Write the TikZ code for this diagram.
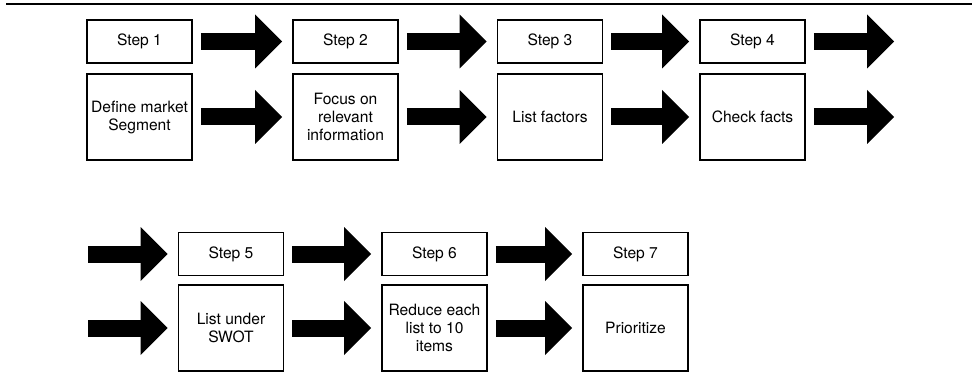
\documentclass[tikz,border=0pt]{standalone}
\usepackage{fontspec}
\setmainfont{TeX Gyre Heros}
\usetikzlibrary{arrows.meta}
\tikzset{
  step box/.style={
    draw, line width=1.7pt, inner sep=0pt,
    minimum width=105pt, minimum height=43pt,
    align=center, font=\fontsize{15.6}{18}\selectfont
  },
  task box/.style={
    step box, minimum height=86pt
  },
  big arrow/.style={
    draw, line width=17pt,
    -{Triangle[length=27pt,width=54pt,line width=0pt]},
    shorten <=8pt, shorten >=10pt
  }
}

\begin{document}
\begin{tikzpicture}[x=1pt,y=-1pt]
    \useasboundingbox (0,0) rectangle (972,385);
    \draw[line width=1.5pt] (6,4) -- (972,4);

    % headers
    \begin{scope}[every node/.style={step box}]
        \node (S1) at (139.5,41.5) {Step 1};
        \node (S2) at (345.5,41.5) {Step 2};
        \node (S3) at (550,41.5) {Step 3};
        \node (S4) at (752.5,41.5) {Step 4};

        \node (S5) at (231,254) {Step 5};
        \node (S6) at (434.5,254) {Step 6};
        \node (S7) at (635.5,254) {Step 7};
    \end{scope}

    % what each step does
    \begin{scope}[every node/.style={task box}]
        \node (T1) at (139.5,117) {Define market\\Segment};
        \node (T2) at (345.5,117) {Focus on\\relevant\\information};
        \node (T3) at (550,117) {List factors};
        \node (T4) at (752.5,117) {Check facts};

        \node (T5) at (231,328) {List under\\SWOT};
        \node (T6) at (434.5,328) {Reduce each\\list to 10\\items};
        \node (T7) at (635.5,328) {Prioritize};
    \end{scope}

    % loose ends where the row wraps
    \coordinate (S4out) at (904,41.5);
    \coordinate (T4out) at (904,117);
    \coordinate (S5in) at (80,254);
    \coordinate (T5in) at (80,328);

    \begin{scope}[every edge/.style={big arrow}]
        \path (S1) edge (S2);
        \path (S2) edge (S3);
        \path (S3) edge (S4);
        \path (S4) edge (S4out);
        \path (T1) edge (T2);
        \path (T2) edge (T3);
        \path (T3) edge (T4);
        \path (T4) edge (T4out);

        \path (S5in) edge (S5);
        \path (S5) edge (S6);
        \path (S6) edge (S7);
        \path (T5in) edge (T5);
        \path (T5) edge (T6);
        \path (T6) edge (T7);
    \end{scope}
\end{tikzpicture}
\end{document}
